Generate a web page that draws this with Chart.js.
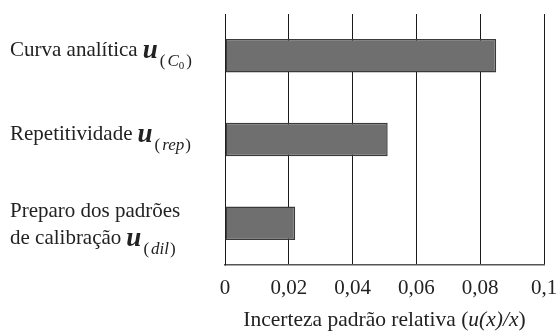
<!DOCTYPE html>
<html>
<head>
<meta charset="utf-8">
<script src="https://cdn.jsdelivr.net/npm/chart.js@4/dist/chart.umd.min.js"></script>
<style>
  html, body { margin: 0; padding: 0; background: #fff; }
  #wrap { position: relative; width: 560px; height: 331px; font-family: "Liberation Serif"; color: #222; }
  #wrap canvas { position: absolute; left: 0; top: 0; }
  .cat-label { position: absolute; left: 10px; font-size: 21px; line-height: 27px; white-space: nowrap; }
  .sym { font-weight: bold; font-style: italic; font-size: 27px; line-height: 0; margin-left: 5px; position: relative; top: 2px; }
  .sub { font-size: 17px; line-height: 0; position: relative; top: 10px; margin-left: 2px; }
  .sub i { font-style: italic; padding: 0 1px 0 2px; }
  .sub small { font-size: 11px; position: relative; top: 3px; margin-left: -1px; margin-right: 2px; }
  #xtitle { position: absolute; font-size: 21.5px; line-height: 26px; text-align: center; white-space: nowrap; }
</style>
</head>
<body>
<div id="wrap"><canvas id="uncertaintyChart" width="560" height="331"></canvas></div>
<script>
// categories (text lines) and the symbol subscript for each
var categoryLines = [
    ['Curva analítica'],
    ['Repetitividade'],
    ['Preparo dos padrões', 'de calibração']
];
var categorySubscripts = ['<i>C</i><small>0</small>', '<i>rep</i>', '<i>dil</i>'];

// relative standard uncertainty u(x)/x
var uncertaintyValues = [0.085, 0.051, 0.022];

// x axis tick labels
var xTickLabels = ['0', '0,02', '0,04', '0,06', '0,08', '0,1'];
var xAxisTitle = 'Incerteza padrão relativa (<i>u(x)/x</i>)';

var fontFamily = '"Liberation Serif"';
var wrap = document.getElementById('wrap');

// html labels go in first so the serif face is in use before the canvas draws
var labelEls = categoryLines.map(function(lines, i) {
    var el = document.createElement('div');
    el.className = 'cat-label';
    el.innerHTML = lines.join('<br>') +
        '<span class="sym">u</span><span class="sub">(' + categorySubscripts[i] + ')</span>';
    wrap.appendChild(el);
    return el;
});
var titleEl = document.createElement('div');
titleEl.id = 'xtitle';
titleEl.innerHTML = xAxisTitle;
wrap.appendChild(titleEl);

// keeps the html labels lined up with the category scale
var labelPositionPlugin = {
    id: 'labelPositions',
    afterDraw: function(chart) {
        var yScale = chart.scales.y;
        var area = chart.chartArea;
        labelEls.forEach(function(el, i) {
            var center = yScale.getPixelForValue(i);
            var offset = categoryLines[i].length > 1 ? -26 : -20;
            el.style.top = Math.round(center + offset) + 'px';
        });
        titleEl.style.left = area.left + 'px';
        titleEl.style.width = (area.right - area.left) + 'px';
        titleEl.style.top = (chart.height - 25) + 'px';
    }
};

function drawChart() {
    var canvas = document.getElementById('uncertaintyChart');
    new Chart(canvas, {
        type: 'bar',
        data: {
            labels: categoryLines.map(function(l) { return l.join(' '); }),
            datasets: [{
                data: uncertaintyValues,
                backgroundColor: '#6f6f6f',
                borderColor: '#3a3a3a',
                borderWidth: 1.5,
                borderSkipped: false,
                categoryPercentage: 1,
                barPercentage: 0.4
            }]
        },
        options: {
            indexAxis: 'y',
            responsive: false,
            animation: false,
            layout: {
                padding: { top: 14, right: 0, bottom: 0, left: 0 }
            },
            plugins: {
                legend: { display: false },
                tooltip: { enabled: false }
            },
            scales: {
                x: {
                    min: 0,
                    max: 0.1,
                    ticks: {
                        stepSize: 0.02,
                        padding: 11,
                        color: '#222',
                        font: { family: fontFamily, size: 21 },
                        callback: function(value, index) {
                            return xTickLabels[index];
                        }
                    },
                    grid: {
                        color: '#1a1a1a',
                        lineWidth: 1,
                        drawTicks: false
                    },
                    border: {
                        display: true,
                        color: '#555',
                        width: 1.5
                    },
                    afterFit: function(scale) {
                        scale.height = 66;
                        // room for half of the "0,1" label only
                        scale.paddingRight = 16;
                        scale.paddingLeft = 0;
                    }
                },
                y: {
                    ticks: { display: false },
                    grid: {
                        drawOnChartArea: false,
                        drawTicks: true,
                        tickLength: 9,
                        lineWidth: 1.5,
                        color: function(ctx) {
                            return ctx.index === categoryLines.length ? '#555' : 'rgba(0,0,0,0)';
                        }
                    },
                    border: {
                        display: true,
                        color: '#1a1a1a',
                        width: 1
                    },
                    afterFit: function(scale) {
                        scale.width = 225;
                    }
                }
            }
        },
        plugins: [labelPositionPlugin]
    });
}

document.fonts.ready.then(drawChart, drawChart);
</script>
</body>
</html>
